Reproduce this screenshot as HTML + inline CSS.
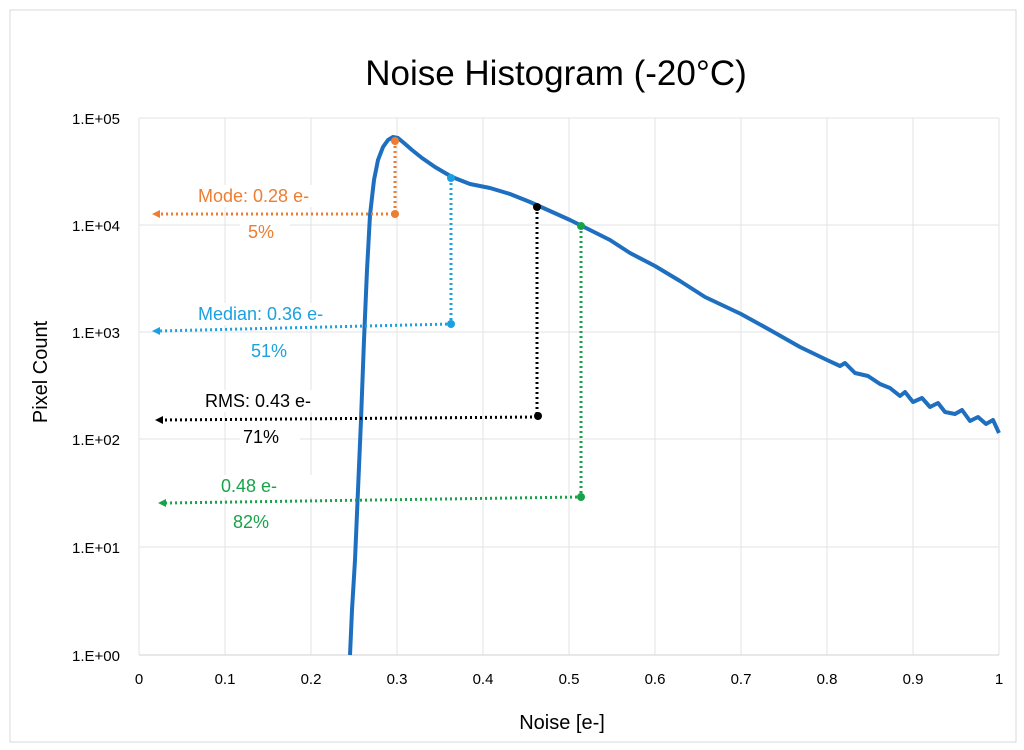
<!DOCTYPE html>
<html><head><meta charset="utf-8"><style>
html,body{margin:0;padding:0;background:#fff;}
svg{display:block;font-family:"Liberation Sans",sans-serif;}
</style></head><body>
<svg width="1024" height="750" viewBox="0 0 1024 750">
<rect x="10" y="10" width="1006" height="732" fill="#fff" stroke="#d9d9d9"/>
<text x="556" y="85" font-size="35" text-anchor="middle" fill="#000">Noise Histogram (-20°C)</text>
<g stroke="#e3e3e3" stroke-width="1">
<line x1="139" y1="118" x2="999" y2="118"/><line x1="139" y1="225" x2="999" y2="225"/>
<line x1="139" y1="332" x2="999" y2="332"/><line x1="139" y1="439" x2="999" y2="439"/>
<line x1="139" y1="547" x2="999" y2="547"/>
<line x1="225" y1="118" x2="225" y2="655"/><line x1="311" y1="118" x2="311" y2="655"/>
<line x1="397" y1="118" x2="397" y2="655"/><line x1="483" y1="118" x2="483" y2="655"/>
<line x1="569" y1="118" x2="569" y2="655"/><line x1="655" y1="118" x2="655" y2="655"/>
<line x1="741" y1="118" x2="741" y2="655"/><line x1="827" y1="118" x2="827" y2="655"/>
<line x1="913" y1="118" x2="913" y2="655"/><line x1="999" y1="118" x2="999" y2="655"/>
<line x1="139" y1="118" x2="139" y2="655"/>
</g>
<line x1="139" y1="655" x2="999" y2="655" stroke="#d0d0d0"/>
<g font-size="15" fill="#000" text-anchor="end">
<text x="120" y="124">1.E+05</text><text x="120" y="231">1.E+04</text><text x="120" y="338">1.E+03</text>
<text x="120" y="445">1.E+02</text><text x="120" y="553">1.E+01</text><text x="120" y="661">1.E+00</text>
</g>
<g font-size="15" fill="#000" text-anchor="middle">
<text x="139" y="684">0</text><text x="225" y="684">0.1</text><text x="311" y="684">0.2</text>
<text x="397" y="684">0.3</text><text x="483" y="684">0.4</text><text x="569" y="684">0.5</text>
<text x="655" y="684">0.6</text><text x="741" y="684">0.7</text><text x="827" y="684">0.8</text>
<text x="913" y="684">0.9</text><text x="999" y="684">1</text>
</g>
<text x="562" y="729" font-size="20" text-anchor="middle">Noise [e-]</text>
<text x="47" y="372" font-size="20" text-anchor="middle" transform="rotate(-90 47 372)">Pixel Count</text>
<g font-size="18">
<rect x="195" y="185" width="155" height="22" fill="#fff"/><rect x="240" y="218" width="50" height="24" fill="#fff"/>
<text x="198" y="202" fill="#ed7d31">Mode: 0.28 e-</text><text x="248" y="238" fill="#ed7d31">5%</text>
<rect x="195" y="303" width="160" height="22" fill="#fff"/><rect x="248" y="338" width="60" height="24" fill="#fff"/>
<text x="198" y="320" fill="#1ba1e2">Median: 0.36 e-</text><text x="251" y="357" fill="#1ba1e2">51%</text>
<rect x="205" y="390" width="150" height="22" fill="#fff"/><rect x="240" y="424" width="60" height="24" fill="#fff"/>
<text x="205" y="407" fill="#000">RMS: 0.43 e-</text><text x="243" y="443" fill="#000">71%</text>
<rect x="218" y="475" width="100" height="22" fill="#fff"/><rect x="230" y="508" width="60" height="24" fill="#fff"/>
<text x="221" y="492" fill="#18a34a">0.48 e-</text><text x="233" y="528" fill="#18a34a">82%</text>
</g>
<path d="M350,655 L352,610 L355,560 L358,490 L361,420 L364,340 L367,270 L370,215 L374,180 L378,160 L383,147 L388,140 L393,137 L398,138 L404,143 L412,150 L422,158 L435,167 L452,177 L470,184 L490,188 L510,194 L530,202 L550,211 L570,220 L590,230 L610,240 L630,253 L655,266 L680,281 L705,297 L741,314 L770,330 L800,347 L827,360 L840,366 L845,363 L855,373 L868,376 L880,384 L890,388 L900,396 L905,392 L913,402 L922,398 L930,407 L938,403 L945,412 L955,414 L962,410 L970,421 L978,417 L986,424 L993,420 L999,433" fill="none" stroke="#1f6fc0" stroke-width="4" stroke-linejoin="round"/>
<g stroke-width="3" stroke-dasharray="2 3" fill="none">
<path d="M395,141 V214 H158" stroke="#ed7d31"/>
<path d="M451,178 V324 L158,331" stroke="#1ba1e2"/>
<path d="M537,207 V417 L162,420" stroke="#000"/>
<path d="M581,226 V497 L166,503" stroke="#18a34a"/>
</g>
<g>
<circle cx="395" cy="141" r="4" fill="#ed7d31"/><circle cx="395" cy="214" r="4" fill="#ed7d31"/><path d="M152,214 l8,-4 v8z" fill="#ed7d31"/>
<circle cx="451" cy="178" r="4" fill="#1ba1e2"/><circle cx="451" cy="324" r="4" fill="#1ba1e2"/><path d="M152,331 l8,-4 v8z" fill="#1ba1e2"/>
<circle cx="537" cy="207" r="4" fill="#000"/><circle cx="538" cy="416" r="4" fill="#000"/><path d="M155,420 l8,-4 v8z" fill="#000"/>
<circle cx="581" cy="226" r="4" fill="#18a34a"/><circle cx="581" cy="497" r="4" fill="#18a34a"/><path d="M158,503 l8,-4 v8z" fill="#18a34a"/>
</g>
</svg>
</body></html>
